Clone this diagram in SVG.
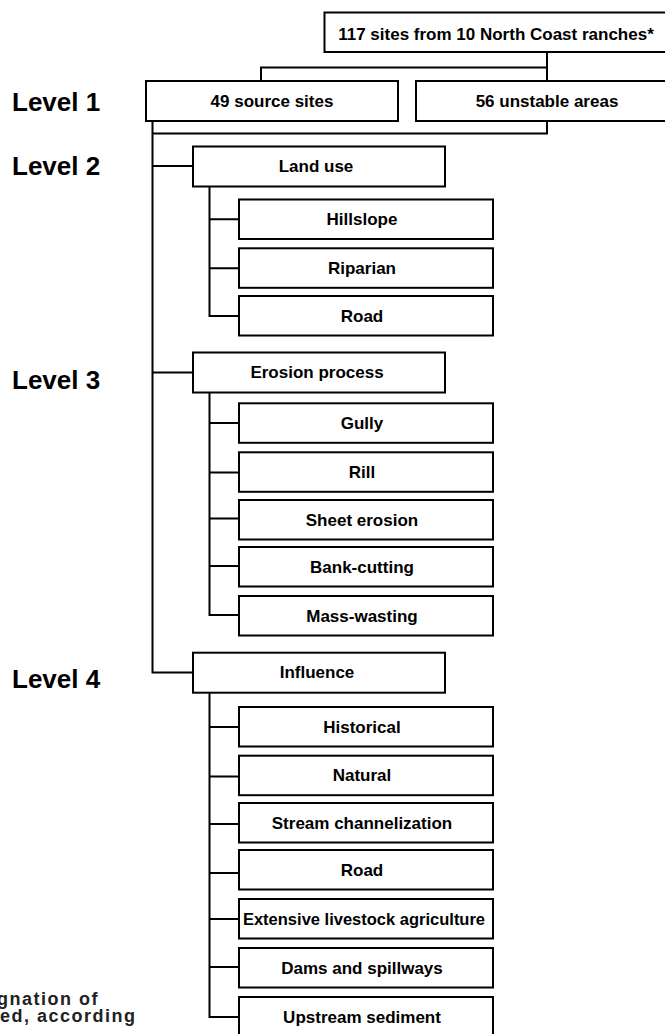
<svg xmlns="http://www.w3.org/2000/svg" width="665" height="1034" viewBox="0 0 665 1034">
<style>
.box{fill:#fff;stroke:#000;stroke-width:2}
.t{font-family:"Liberation Sans",Arial,sans-serif;font-weight:bold;font-size:17px;fill:#000;text-anchor:middle}
.lv{font-family:"Liberation Sans",Arial,sans-serif;font-weight:bold;font-size:26px;fill:#000}
.cap{font-family:"Liberation Sans",Arial,sans-serif;font-weight:bold;font-size:18px;fill:#222;letter-spacing:1.5px}
.ln{fill:none;stroke:#000;stroke-width:2}
</style>
<rect width="665" height="1034" fill="#fff"/>
<g id="connectors">
<path class="ln" d="M547,52 V67.5 H261 V81 M547,67.5 V81"/>
<path class="ln" d="M547,121 V133.5 H152.5 M152.5,121 V672.5 H193 M152.5,166 H193 M152.5,372.5 H193"/>
<path class="ln" d="M209.5,186.5 V316 H239 M209.5,219.3 H239 M209.5,268.3 H239"/>
<path class="ln" d="M209.5,392.5 V615 H239 M209.5,423 H239 M209.5,472.5 H239 M209.5,518.5 H239 M209.5,566 H239"/>
<path class="ln" d="M209.5,692.5 V1017 H239 M209.5,727 H239 M209.5,776.5 H239 M209.5,824 H239 M209.5,873 H239 M209.5,919 H239 M209.5,967 H239"/>
</g>
<g id="labels">
<text class="lv" x="12" y="111">Level 1</text>
<text class="lv" x="12" y="175">Level 2</text>
<text class="lv" x="12" y="389">Level 3</text>
<text class="lv" x="12" y="688">Level 4</text>
<text class="cap" x="-3" y="1005">gnation of</text>
<text class="cap" x="0" y="1022">ed, according</text>
</g>
<g id="root"><rect class="box" x="324.5" y="12.5" width="360" height="39.5"/><text class="t" x="496" y="40">117 sites from 10 North Coast ranches*</text></g>
<g id="source"><rect class="box" x="146" y="81" width="252" height="40"/><text class="t" x="272" y="107">49 source sites</text></g>
<g id="unstable"><rect class="box" x="416" y="81" width="270" height="40"/><text class="t" x="547" y="107">56 unstable areas</text></g>
<g id="landuse"><rect class="box" x="193" y="146.5" width="252" height="40"/><text class="t" x="316" y="172">Land use</text></g>
<g id="hillslope"><rect class="box" x="239" y="199.5" width="254" height="39.5"/><text class="t" x="362" y="225">Hillslope</text></g>
<g id="riparian"><rect class="box" x="239" y="248.3" width="254" height="39.5"/><text class="t" x="362" y="274">Riparian</text></g>
<g id="road1"><rect class="box" x="239" y="296" width="254" height="39.5"/><text class="t" x="362" y="322">Road</text></g>
<g id="erosion"><rect class="box" x="193" y="352.5" width="252" height="40"/><text class="t" x="317" y="378">Erosion process</text></g>
<g id="gully"><rect class="box" x="239" y="403.3" width="254" height="39.5"/><text class="t" x="362" y="429">Gully</text></g>
<g id="rill"><rect class="box" x="239" y="452.3" width="254" height="39.5"/><text class="t" x="362" y="478">Rill</text></g>
<g id="sheet"><rect class="box" x="239" y="500" width="254" height="39.5"/><text class="t" x="362" y="526">Sheet erosion</text></g>
<g id="bank"><rect class="box" x="239" y="547" width="254" height="39.5"/><text class="t" x="362" y="573">Bank-cutting</text></g>
<g id="mass"><rect class="box" x="239" y="596" width="254" height="39.5"/><text class="t" x="362" y="622">Mass-wasting</text></g>
<g id="influence"><rect class="box" x="193" y="652.7" width="252" height="40"/><text class="t" x="317" y="678">Influence</text></g>
<g id="historical"><rect class="box" x="239" y="707" width="254" height="39.5"/><text class="t" x="362" y="733">Historical</text></g>
<g id="natural"><rect class="box" x="239" y="755.7" width="254" height="39.5"/><text class="t" x="362" y="781">Natural</text></g>
<g id="stream"><rect class="box" x="239" y="803" width="254" height="39.5"/><text class="t" x="362" y="829">Stream channelization</text></g>
<g id="road2"><rect class="box" x="239" y="850" width="254" height="39.5"/><text class="t" x="362" y="876">Road</text></g>
<g id="extensive"><rect class="box" x="239" y="899" width="254" height="39.5"/><text class="t" x="364" y="925" style="font-size:16.5px">Extensive livestock agriculture</text></g>
<g id="dams"><rect class="box" x="239" y="948" width="254" height="39.5"/><text class="t" x="362" y="974">Dams and spillways</text></g>
<g id="upstream"><rect class="box" x="239" y="997" width="254" height="39.5"/><text class="t" x="362" y="1023">Upstream sediment</text></g>
</svg>
